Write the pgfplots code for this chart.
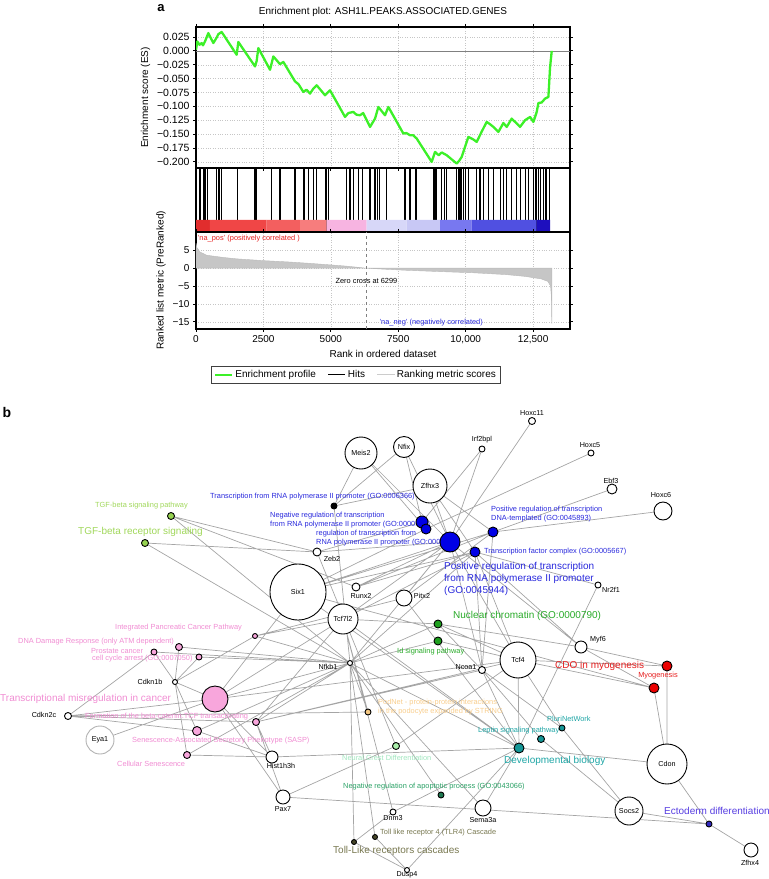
\documentclass[border=0pt]{standalone}
\usepackage{pgfplots}
\pgfplotsset{compat=1.18}
\usepackage{fontspec}
\setmainfont{Liberation Sans}
\definecolor{esgreen}{RGB}{60,240,40}
\definecolor{edgegray}{RGB}{165,165,165}
\definecolor{blueN}{RGB}{0,0,230}\definecolor{blueT}{RGB}{40,40,220}
\definecolor{pinkN}{RGB}{248,166,220}\definecolor{pinkT}{RGB}{240,140,210}
\definecolor{tgfN}{RGB}{150,210,80}\definecolor{tgfT}{RGB}{160,215,90}
\definecolor{grN}{RGB}{30,160,30}\definecolor{grT}{RGB}{40,170,40}
\definecolor{redN}{RGB}{235,0,0}\definecolor{redT}{RGB}{230,30,30}
\definecolor{tealN}{RGB}{20,150,150}\definecolor{tealT}{RGB}{30,165,165}
\definecolor{orN}{RGB}{245,200,130}\definecolor{orT}{RGB}{248,205,140}
\definecolor{mintN}{RGB}{170,238,170}\definecolor{mintT}{RGB}{160,230,190}
\definecolor{apN}{RGB}{30,120,80}\definecolor{apT}{RGB}{40,160,100}
\definecolor{olN}{RGB}{70,70,40}\definecolor{olT}{RGB}{120,120,80}
\definecolor{ectN}{RGB}{50,40,190}\definecolor{ectT}{RGB}{85,60,225}
\definecolor{cb1}{RGB}{225,45,45}\definecolor{cb2}{RGB}{240,70,70}
\definecolor{cb3}{RGB}{243,95,95}\definecolor{cb4}{RGB}{247,125,125}
\definecolor{cb5}{RGB}{247,180,225}\definecolor{cb6}{RGB}{215,215,248}
\definecolor{cb7}{RGB}{200,200,245}\definecolor{cb8}{RGB}{120,120,240}
\definecolor{cb9}{RGB}{80,80,225}\definecolor{cb10}{RGB}{30,15,190}
\newcommand\fs{\fontsize{7.4}{8.5}\selectfont}
\newcommand\fl{\fontsize{10}{12}\selectfont}
\newcommand\fg{\fontsize{7.2}{8.5}\selectfont}
\pgfplotsset{netnode/.style={scatter, only marks, mark=*,
  scatter/use mapped color={draw=black, fill=#1}, line width=0.9pt,
  point meta=\thisrow{r},
  visualization depends on={\thisrow{r}\as\perpointr},
  scatter/@pre marker code/.append style={/tikz/mark size=\perpointr}},
  canvas/.style={at={(0pt,0pt)}, anchor=south west, width=769pt, height=879pt,
  scale only axis, xmin=0, xmax=769, ymin=0, ymax=879, y dir=reverse,
  hide axis, clip=false, point meta min=0, point meta max=100}}
\begin{document}
\begin{tikzpicture}
\path[use as bounding box] (0,0) rectangle (769pt,879pt);
% ---------------- panel b network ----------------
\begin{axis}[canvas]
\addplot[edgegray, line width=0.7pt, unbounded coords=jump, mark=none] coordinates {
(361,453)(334,506) (nan,nan) (361,453)(450,542) (nan,nan) (361,453)(426,529) (nan,nan)
(404,447)(334,506) (nan,nan) (404,447)(422,522) (nan,nan) (404,447)(450,542) (nan,nan)
(430,486)(450,542) (nan,nan) (430,486)(493,532) (nan,nan) (430,486)(475,552) (nan,nan)
(430,486)(334,506) (nan,nan) (482,449)(422,522) (nan,nan) (482,449)(450,542) (nan,nan)
(532,421)(450,542) (nan,nan) (591,453)(426,529) (nan,nan) (612,489)(493,532) (nan,nan)
(663,511)(493,532) (nan,nan) (317,552)(171,516) (nan,nan) (317,552)(145,543) (nan,nan)
(317,552)(450,542) (nan,nan) (317,552)(422,522) (nan,nan) (317,552)(396,746) (nan,nan)
(298,592)(450,542) (nan,nan) (298,592)(426,529) (nan,nan) (298,592)(493,532) (nan,nan)
(298,592)(475,552) (nan,nan) (298,592)(519,748) (nan,nan) (298,592)(215,699) (nan,nan)
(298,592)(654,688) (nan,nan) (356,587)(450,542) (nan,nan) (356,587)(493,532) (nan,nan)
(356,587)(171,516) (nan,nan) (356,587)(475,552) (nan,nan) (343,619)(450,542) (nan,nan)
(343,619)(475,552) (nan,nan) (343,619)(438,624) (nan,nan) (343,619)(256,722) (nan,nan)
(343,619)(255,636) (nan,nan) (343,619)(215,699) (nan,nan) (343,619)(519,748) (nan,nan)
(343,619)(368,712) (nan,nan) (404,598)(450,542) (nan,nan) (404,598)(493,532) (nan,nan)
(404,598)(255,636) (nan,nan) (404,598)(519,748) (nan,nan) (598,585)(475,552) (nan,nan)
(598,585)(519,748) (nan,nan) (581,647)(667,666) (nan,nan) (581,647)(654,688) (nan,nan)
(581,647)(450,542) (nan,nan) (581,647)(475,552) (nan,nan) (581,647)(438,624) (nan,nan)
(350,663)(354,842) (nan,nan) (350,663)(375,837) (nan,nan) (350,663)(441,795) (nan,nan)
(350,663)(368,712) (nan,nan) (350,663)(519,748) (nan,nan) (350,663)(450,542) (nan,nan)
(350,663)(475,552) (nan,nan) (350,663)(215,699) (nan,nan) (350,663)(256,722) (nan,nan)
(350,663)(197,731) (nan,nan) (350,663)(187,755) (nan,nan) (350,663)(154,652) (nan,nan)
(350,663)(179,647) (nan,nan) (350,663)(171,516) (nan,nan) (350,663)(145,543) (nan,nan)
(350,663)(255,636) (nan,nan) (350,663)(438,624) (nan,nan) (350,663)(438,641) (nan,nan)
(350,663)(199,657) (nan,nan) (350,663)(334,506) (nan,nan) (482,670)(450,542) (nan,nan)
(482,670)(475,552) (nan,nan) (482,670)(438,624) (nan,nan) (482,670)(493,532) (nan,nan)
(482,670)(541,739) (nan,nan) (482,670)(562,728) (nan,nan) (482,670)(519,748) (nan,nan)
(482,670)(256,722) (nan,nan) (518,660)(667,666) (nan,nan) (518,660)(654,688) (nan,nan)
(518,660)(519,748) (nan,nan) (518,660)(450,542) (nan,nan) (518,660)(475,552) (nan,nan)
(518,660)(438,624) (nan,nan) (518,660)(438,641) (nan,nan) (518,660)(256,722) (nan,nan)
(518,660)(562,728) (nan,nan) (518,660)(396,746) (nan,nan) (518,660)(215,699) (nan,nan)
(175,682)(154,652) (nan,nan) (175,682)(179,647) (nan,nan) (175,682)(199,657) (nan,nan)
(175,682)(215,699) (nan,nan) (175,682)(197,731) (nan,nan) (175,682)(187,755) (nan,nan)
(175,682)(255,636) (nan,nan) (68,716)(154,652) (nan,nan) (68,716)(215,699) (nan,nan)
(68,716)(197,731) (nan,nan) (68,716)(256,722) (nan,nan) (68,716)(368,712) (nan,nan)
(100,740)(215,699) (nan,nan) (272,757)(197,731) (nan,nan) (272,757)(187,755) (nan,nan)
(272,757)(256,722) (nan,nan) (272,757)(519,748) (nan,nan) (272,757)(215,699) (nan,nan)
(283,797)(256,722) (nan,nan) (283,797)(396,746) (nan,nan) (283,797)(215,699) (nan,nan)
(283,797)(709,824) (nan,nan) (393,812)(519,748) (nan,nan) (393,812)(343,619) (nan,nan)
(393,812)(354,842) (nan,nan) (407,870)(354,842) (nan,nan) (407,870)(375,837) (nan,nan)
(407,870)(519,748) (nan,nan) (483,808)(519,748) (nan,nan) (483,808)(350,663) (nan,nan)
(667,764)(667,666) (nan,nan) (667,764)(654,688) (nan,nan) (667,764)(519,748) (nan,nan)
(667,764)(709,824) (nan,nan) (629,811)(709,824) (nan,nan) (629,811)(562,728) (nan,nan)
(629,811)(541,739) (nan,nan) (751,850)(709,824)
};
% term labels
\node[anchor=west, inner sep=0pt, text=blueT, font=\fs] at (axis cs:210,497) {Transcription from RNA polymerase II promoter (GO:0006366)};
\node[anchor=west, inner sep=0pt, text=blueT, font=\fs] at (axis cs:270,516) {Negative regulation of transcription};
\node[anchor=west, inner sep=0pt, text=blueT, font=\fs] at (axis cs:270,525) {from RNA polymerase II promoter (GO:0000122)};
\node[anchor=west, inner sep=0pt, text=blueT, font=\fs] at (axis cs:316,534) {regulation of transcription from};
\node[anchor=west, inner sep=0pt, text=blueT, font=\fs] at (axis cs:316,543) {RNA polymerase II promoter (GO:0006357)};
\node[anchor=west, inner sep=0pt, text=blueT, font=\fs] at (axis cs:491,510) {Positive regulation of transcription};
\node[anchor=west, inner sep=0pt, text=blueT, font=\fs] at (axis cs:491,519) {DNA-templated (GO:0045893)};
\node[anchor=west, inner sep=0pt, text=blueT, font=\fs] at (axis cs:484,552) {Transcription factor complex (GO:0005667)};
\node[anchor=west, inner sep=0pt, text=blueT, font=\fl] at (axis cs:444,567) {Positive regulation of transcription};
\node[anchor=west, inner sep=0pt, text=blueT, font=\fl] at (axis cs:444,579) {from RNA polymerase II promoter};
\node[anchor=west, inner sep=0pt, text=blueT, font=\fl] at (axis cs:444,591) {(GO:0045944)};
\node[anchor=west, inner sep=0pt, text=tgfT, font=\fs] at (axis cs:95,506) {TGF-beta signaling pathway};
\node[anchor=west, inner sep=0pt, text=tgfT, font=\fl] at (axis cs:78,532) {TGF-beta receptor signaling};
\node[anchor=west, inner sep=0pt, text=pinkT, font=\fs] at (axis cs:115,628) {Integrated Pancreatic Cancer Pathway};
\node[anchor=west, inner sep=0pt, text=pinkT, font=\fs] at (axis cs:18,642) {DNA Damage Response (only ATM dependent)};
\node[anchor=west, inner sep=0pt, text=pinkT, font=\fs] at (axis cs:91,651) {Prostate cancer};
\node[anchor=west, inner sep=0pt, text=pinkT, font=\fs] at (axis cs:92,659) {cell cycle arrest (GO:0007050)};
\node[anchor=west, inner sep=0pt, text=pinkT, font=\fl] at (axis cs:0,699) {Transcriptional misregulation in cancer};
\node[anchor=west, inner sep=0pt, text=pinkT, font=\fs] at (axis cs:85,717) {Formation of the beta-catenin:TCF transactivating};
\node[anchor=west, inner sep=0pt, text=pinkT, font=\fs] at (axis cs:132,741) {Senescence-Associated Secretory Phenotype (SASP)};
\node[anchor=west, inner sep=0pt, text=pinkT, font=\fs] at (axis cs:117,764) {Cellular Senescence};
\node[anchor=west, inner sep=0pt, text=grT, font=\fl] at (axis cs:453,616) {Nuclear chromatin (GO:0000790)};
\node[anchor=west, inner sep=0pt, text=grT, font=\fs] at (axis cs:397,652) {Id signaling pathway};
\node[anchor=west, inner sep=0pt, text=redT, font=\fl] at (axis cs:555,666) {CDO in myogenesis};
\node[inner sep=0pt, text=redT, font=\fs] at (axis cs:658,676) {Myogenesis};
\node[anchor=west, inner sep=0pt, text=tealT, font=\fs] at (axis cs:547,719) {PluriNetWork};
\node[anchor=west, inner sep=0pt, text=tealT, font=\fs] at (axis cs:478,731) {Leptin signaling pathway};
\node[anchor=west, inner sep=0pt, text=tealT, font=\fl] at (axis cs:504,761) {Developmental biology};
\node[anchor=west, inner sep=0pt, text=orT, font=\fs] at (axis cs:378,703) {PodNet - protein-protein interactions};
\node[anchor=west, inner sep=0pt, text=orT, font=\fs] at (axis cs:378,712) {in the podocyte expanded by STRING};
\node[anchor=west, inner sep=0pt, text=mintT, font=\fs] at (axis cs:342,758) {Neural Crest Differentiation};
\node[anchor=west, inner sep=0pt, text=apT, font=\fs] at (axis cs:343,787) {Negative regulation of apoptotic process (GO:0043066)};
\node[anchor=west, inner sep=0pt, text=olT, font=\fs] at (axis cs:380,833) {Toll like receptor 4 (TLR4) Cascade};
\node[anchor=west, inner sep=0pt, text=olT, font=\fl] at (axis cs:333,851) {Toll-Like receptors cascades};
\node[anchor=west, inner sep=0pt, text=ectT, font=\fl] at (axis cs:664,811) {Ectoderm differentiation};
% gene nodes
\addplot[netnode=white] table {
x y r
361 453 16
404 447 10.5
430 486 17
482 449 3
532 421 3.5
591 453 3
612 489 5
663 511 9
317 552 4
298 592 28
356 587 4
343 619 15
404 598 8
598 585 3
581 647 6
350 663 2.5
482 670 3.5
518 660 18
175 682 2.5
68 716 3.5
272 757 6
283 797 7
393 812 3
483 808 8
407 870 2.5
667 764 20
629 811 14
751 850 7
};
\addplot[scatter, only marks, mark=*, scatter/use mapped color={draw=black!30, fill=white}, line width=0.9pt,
  point meta=\thisrow{r}, visualization depends on={\thisrow{r}\as\perpointr},
  scatter/@pre marker code/.append style={/tikz/mark size=\perpointr}] table {
x y r
100 740 14
};
\addplot[netnode=black] table {
x y r
334 506 3
};
\addplot[netnode=blueN] table {
x y r
422 522 6
426 529 5
450 542 10
493 532 5
475 552 5
};
\addplot[netnode=pinkN] table {
x y r
255 636 2.5
179 647 3.5
154 652 3
199 657 3
215 699 13
256 722 3.5
197 731 4.5
187 755 3.5
};
\addplot[netnode=tgfN] table {
x y r
171 516 3.5
145 543 3.5
};
\addplot[netnode=grN] table {
x y r
438 624 4
438 641 4
};
\addplot[netnode=redN] table {
x y r
667 666 5
654 688 5
};
\addplot[netnode=tealN] table {
x y r
562 728 3
541 739 3.5
519 748 5
};
\addplot[netnode=orN] table {
x y r
368 712 3
};
\addplot[netnode=mintN] table {
x y r
396 746 3.5
};
\addplot[netnode=apN] table {
x y r
441 795 3
};
\addplot[netnode=olN] table {
x y r
375 837 2.5
354 842 2.5
};
\addplot[netnode=ectN] table {
x y r
709 824 3
};
\end{axis}
% ---------------- overlay: gene labels ----------------
\begin{axis}[canvas]
\node[font=\fg] at (axis cs:361,453) {Meis2};
\node[font=\fg] at (axis cs:404,447) {Nfix};
\node[font=\fg] at (axis cs:430,486) {Zfhx3};
\node[font=\fg] at (axis cs:482,440) {Irf2bpl};
\node[font=\fg] at (axis cs:532,413) {Hoxc11};
\node[font=\fg] at (axis cs:590,445) {Hoxc5};
\node[font=\fg] at (axis cs:611,481) {Ebf3};
\node[font=\fg] at (axis cs:661,495) {Hoxc6};
\node[font=\fg] at (axis cs:332,559) {Zeb2};
\node[font=\fg] at (axis cs:298,592) {Six1};
\node[font=\fg] at (axis cs:361,596) {Runx2};
\node[font=\fg] at (axis cs:343,619) {Tcf7l2};
\node[font=\fg] at (axis cs:422,596) {Pitx2};
\node[font=\fg] at (axis cs:611,590) {Nr2f1};
\node[font=\fg] at (axis cs:598,640) {Myf6};
\node[font=\fg] at (axis cs:328,667) {Nfkb1};
\node[font=\fg] at (axis cs:466,667) {Ncoa1};
\node[font=\fg] at (axis cs:518,660) {Tcf4};
\node[font=\fg] at (axis cs:150,682) {Cdkn1b};
\node[font=\fg] at (axis cs:44,715) {Cdkn2c};
\node[font=\fg] at (axis cs:100,740) {Eya1};
\node[font=\fg] at (axis cs:281,766) {Hist1h3h};
\node[font=\fg] at (axis cs:283,809) {Pax7};
\node[font=\fg] at (axis cs:393,818) {Dnm3};
\node[font=\fg] at (axis cs:483,820) {Sema3a};
\node[font=\fg] at (axis cs:407,875) {Dusp4};
\node[font=\fg] at (axis cs:667,764) {Cdon};
\node[font=\fg] at (axis cs:629,811) {Socs2};
\node[font=\fg] at (axis cs:750,863) {Zfhx4};
\node[font=\bfseries\fontsize{13}{15}\selectfont] at (axis cs:161,8) {a};
\node[font=\bfseries\fontsize{14}{16}\selectfont] at (axis cs:7,412) {b};
\end{axis}
% ---------------- panel a: ES ----------------
\begin{axis}[at={(196pt,711pt)}, anchor=south west, width=374pt, height=141pt,
  scale only axis, xmin=0, xmax=13870, ymin=-0.211, ymax=0.043,
  scaled x ticks=false, scaled y ticks=false,
  ytick={-0.2,-0.175,-0.15,-0.125,-0.1,-0.075,-0.05,-0.025,0,0.025},
  yticklabels={−0.200,−0.175,−0.150,−0.125,−0.100,−0.075,−0.050,−0.025,0.000,0.025},
  xtick={0,2500,5000,7500,10000,12500}, xticklabels={},
  grid=major, grid style={dotted, gray!45},
  axis line style={line width=1.2pt}, tick align=outside, major tick length=3pt,
  tick style={black, line width=0.8pt},
  ticklabel style={font=\fontsize{10.5}{12}\selectfont},
  ylabel={Enrichment score (ES)}, ylabel style={font=\fontsize{10}{12}\selectfont},
  title={Enrichment plot: ASH1L.PEAKS.ASSOCIATED.GENES},
  title style={font=\fontsize{10}{12}\selectfont, yshift=1pt}]
\addplot[gray, line width=0.6pt, mark=none] coordinates {(0,0) (13870,0)};
\addplot[esgreen, line width=2.3pt, mark=none, line join=round] coordinates {
(0,0.002) (49,0.017) (130,0.011) (210,0.014) (260,0.010) (334,0.017) (457,0.032) (643,0.014) (767,0.024) (828,0.030) (952,0.034)
(1508,-0.007) (1570,0.016) (2188,-0.028) (2250,-0.018) (2312,0.005) (2745,-0.034) (2807,-0.022) (2868,-0.010) (3116,-0.024) (3239,-0.020)
(3672,-0.055) (3800,-0.060) (3981,-0.074) (4100,-0.070) (4228,-0.077) (4352,-0.068) (4476,-0.062) (4785,-0.080) (4909,-0.074) (4970,-0.071)
(5527,-0.119) (5650,-0.112) (5836,-0.110) (5950,-0.115) (6083,-0.116) (6200,-0.112) (6454,-0.137) (6640,-0.122) (6763,-0.101) (7010,-0.116) (7134,-0.101)
(7690,-0.149) (7800,-0.148) (7938,-0.152) (8060,-0.152) (8185,-0.158) (8741,-0.200) (8865,-0.182) (9000,-0.188) (9112,-0.183) (9298,-0.188)
(9669,-0.203) (9760,-0.198) (9854,-0.191) (10101,-0.155) (10300,-0.160) (10410,-0.164) (10600,-0.145) (10781,-0.128) (10900,-0.132) (11028,-0.137) (11214,-0.146)
(11400,-0.130) (11523,-0.137) (11708,-0.122) (12018,-0.137) (12203,-0.125) (12389,-0.119) (12513,-0.128) (12636,-0.110) (12698,-0.094) (12820,-0.093) (12945,-0.086)
(13069,-0.083) (13130,-0.030) (13193,0.0)};
\end{axis}
% ---------------- panel a: hits + colour bar ----------------
\begin{axis}[at={(196pt,647pt)}, anchor=south west, width=374pt, height=64pt,
  scale only axis, xmin=0, xmax=13870, ymin=0, ymax=64, ticks=none,
  scaled x ticks=false, scaled y ticks=false,
  axis line style={line width=1.2pt}]
\addplot[ycomb, black, line width=1.1pt, mark=none] coordinates {
(25,64) (148,64) (272,64) (334,64) (433,64) (767,64) (854,64) (952,64) (1533,64) (2189,64) (2250,64)
(2807,64) (3116,64) (3672,64) (4006,64) (4167,64) (4352,64) (4476,64) (4822,64) (4909,64)
(5589,64) (5712,64) (5836,64) (6021,64) (6182,64) (6454,64) (6640,64) (6726,64) (6800,64) (7072,64)
(7752,64) (7938,64) (8160,64) (8828,64) (8902,64) (9112,64) (9199,64) (9298,64)
(9669,64) (9730,64) (9792,64) (9854,64) (9916,64) (9978,64) (10101,64) (10410,64) (10534,64) (10657,64)
(10843,64) (11028,64) (11276,64) (11399,64) (11523,64) (11708,64) (11894,64) (12018,64) (12203,64) (12327,64)
(12513,64) (12574,64) (12636,64) (12698,64) (12760,64) (12883,64) (12945,64) (13007,64) (13106,64)};
\addplot[fill=cb1, draw=none] coordinates {(0,0) (0,12) (519,12) (519,0)} \closedcycle;
\addplot[fill=cb2, draw=none] coordinates {(519,0) (519,12) (2621,12) (2621,0)} \closedcycle;
\addplot[fill=cb3, draw=none] coordinates {(2621,0) (2621,12) (3857,12) (3857,0)} \closedcycle;
\addplot[fill=cb4, draw=none] coordinates {(3857,0) (3857,12) (4847,12) (4847,0)} \closedcycle;
\addplot[fill=cb5, draw=none] coordinates {(4847,0) (4847,12) (6330,12) (6330,0)} \closedcycle;
\addplot[fill=cb6, draw=none] coordinates {(6330,0) (6330,12) (7814,12) (7814,0)} \closedcycle;
\addplot[fill=cb7, draw=none] coordinates {(7814,0) (7814,12) (9050,12) (9050,0)} \closedcycle;
\addplot[fill=cb8, draw=none] coordinates {(9050,0) (9050,12) (10225,12) (10225,0)} \closedcycle;
\addplot[fill=cb9, draw=none] coordinates {(10225,0) (10225,12) (12636,12) (12636,0)} \closedcycle;
\addplot[fill=cb10, draw=none] coordinates {(12636,0) (12636,12) (13130,12) (13130,0)} \closedcycle;
\end{axis}
% ---------------- panel a: ranked metric ----------------
\begin{axis}[at={(196pt,550pt)}, anchor=south west, width=374pt, height=97pt,
  scale only axis, xmin=0, xmax=13870, ymin=-17, ymax=10.1,
  scaled x ticks=false, scaled y ticks=false,
  ytick={-15,-10,-5,0,5}, yticklabels={−15,−10,−5,0,5},
  xtick={0,2500,5000,7500,10000,12500}, xticklabels={0,2500,5000,7500,{10,000},{12,500}},
  grid=major, grid style={dotted, gray!45},
  axis line style={line width=1.2pt}, tick align=outside, major tick length=3pt,
  tick style={black, line width=0.8pt},
  ticklabel style={font=\fontsize{10}{12}\selectfont},
  xlabel={Rank in ordered dataset}, ylabel={Ranked list metric (PreRanked)},
  label style={font=\fontsize{10}{12}\selectfont},
  legend style={at={(0.428,-0.38)}, anchor=north, legend columns=3,
    font=\fontsize{10}{12}\selectfont, draw=black!75, line width=1pt,
    /tikz/every even column/.append style={column sep=10pt}},
  clip=false]
\addplot[fill=gray!45, draw=gray!55, line width=0.4pt, mark=none, forget plot] coordinates {
(0,7) (30,5.8) (150,4.5) (400,3.6) (1000,3.0) (1500,2.6) (2500,2.1) (3500,1.7) (4200,1.35)
(5000,0.9) (5600,0.55) (6299,0) (7000,-0.3) (7800,-0.6) (9000,-0.95) (10300,-1.3) (11500,-1.8)
(12200,-2.3) (12800,-3.0) (13050,-3.7) (13150,-5) (13180,-8) (13195,-15.5) (13200,0)} \closedcycle;
\addplot[gray, dashed, line width=0.6pt, mark=none, forget plot] coordinates {(6299,-17) (6299,10.1)};
\node[anchor=west, inner sep=0pt, text=redT, font=\fs] at (axis cs:60,8.2) {'na\_pos' (positively correlated )};
\node[inner sep=0pt, font=\fs] at (axis cs:6320,-3.6) {Zero cross at 6299};
\node[anchor=west, inner sep=0pt, text=blueT, font=\fs] at (axis cs:6800,-15.1) {'na\_neg' (negatively correlated)};
\addlegendimage{esgreen, line width=2pt}
\addlegendentry{Enrichment profile}
\addlegendimage{black, line width=0.8pt}
\addlegendentry{Hits}
\addlegendimage{gray!40, line width=0.8pt}
\addlegendentry{Ranking metric scores}
\end{axis}
\end{tikzpicture}
\end{document}
